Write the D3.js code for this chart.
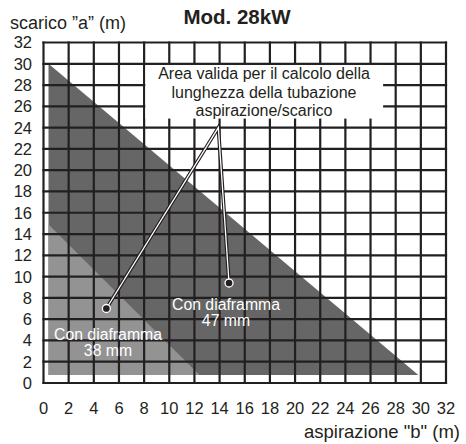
<!DOCTYPE html>
<html>
<head>
<meta charset="utf-8">
<script src="https://cdn.jsdelivr.net/npm/d3@7"></script>
<style>
  html, body { margin: 0; padding: 0; background: #fff; }
  svg { display: block; font-family: "Liberation Sans", Arial, sans-serif; }
</style>
</head>
<body>
<svg id="chart" width="466" height="444"></svg>
<script>
// Axis ticks (metres)
const xTicks = [0, 2, 4, 6, 8, 10, 12, 14, 16, 18, 20, 22, 24, 26, 28, 30, 32];
const yTicks = [0, 2, 4, 6, 8, 10, 12, 14, 16, 18, 20, 22, 24, 26, 28, 30, 32];

// Valid areas: [aspirazione b, scarico a]
const area47 = [[0.4, 30], [29.8, 0.75], [0.4, 0.75]];
const area38 = [[0.4, 14.9], [12.4, 0.75], [0.4, 0.75]];

// Callout: two marker points joined through a common apex
const calloutApex = [13.9, 24];
const marker38 = [5, 7];
const marker47 = [14.75, 9.4];

const titleText = "Mod. 28kW";
const yTitle = "scarico \u201da\u201d (m)";
const xTitle = "aspirazione \"b\" (m)";
const noteLines = ["Area valida per il calcolo della", "lunghezza della tubazione", "aspirazione/scarico"];
const label38 = ["Con diaframma", "38 mm"];
const label47 = ["Con diaframma", "47 mm"];

const ink = "#231f20";
const svg = d3.select("#chart");

const x = d3.scaleLinear().domain([0, 32]).range([43.5, 446]);
const y = d3.scaleLinear().domain([0, 32]).range([383, 42.5]);

const line = d3.line().x(d => x(d[0])).y(d => y(d[1]));

// shaded areas
svg.append("path").attr("d", line(area47) + "Z").attr("fill", "#666666");
svg.append("path").attr("d", line(area38) + "Z").attr("fill", "#939393");

// grid
const grid = svg.append("g").attr("stroke", ink).attr("stroke-width", 2.2);
grid.selectAll("line.v").data(xTicks).join("line")
  .attr("x1", d => x(d)).attr("x2", d => x(d))
  .attr("y1", y(32) - 1.1).attr("y2", y(0) + 1.1);
grid.selectAll("line.h").data(yTicks).join("line")
  .attr("x1", x(0) - 1.1).attr("x2", x(32) + 1.1)
  .attr("y1", d => y(d)).attr("y2", d => y(d));

// white panel behind the note
svg.append("rect")
  .attr("x", x(8) + 1.2).attr("y", y(30) + 1.2)
  .attr("width", x(27) - x(8) - 1.2).attr("height", y(24.85) - y(30) - 1.2)
  .attr("fill", "#fff");

const note = svg.append("text")
  .attr("text-anchor", "middle").attr("font-size", 16).attr("fill", ink);
noteLines.forEach((t, i) => {
  note.append("tspan").attr("x", 264).attr("y", 79 + i * 18.5).text(t);
});

// callout lines
const callout = [marker38, calloutApex, marker47];
svg.append("path").attr("d", line(callout)).attr("fill", "none")
  .attr("stroke", ink).attr("stroke-width", 3.6).attr("stroke-linejoin", "miter");
svg.append("path").attr("d", line(callout)).attr("fill", "none")
  .attr("stroke", "#fff").attr("stroke-width", 1.3).attr("stroke-linejoin", "miter");
svg.selectAll("circle.m").data([marker38, marker47]).join("circle")
  .attr("cx", d => x(d[0])).attr("cy", d => y(d[1])).attr("r", 4)
  .attr("fill", ink).attr("stroke", "#fff").attr("stroke-width", 1.3);

// area labels
function areaLabel(lines, cx, top) {
  const t = svg.append("text").attr("text-anchor", "middle")
    .attr("font-size", 15.8).attr("fill", "#fff");
  lines.forEach((s, i) => t.append("tspan").attr("x", cx).attr("y", top + i * 16).text(s));
}
areaLabel(label38, 108, 340);
areaLabel(label47, 226, 310);

// tick labels
svg.append("g").selectAll("text").data(yTicks).join("text")
  .attr("x", 32).attr("y", d => y(d)).attr("dy", "0.36em")
  .attr("text-anchor", "end").attr("font-size", 16.5).attr("fill", ink)
  .text(d => d);
svg.append("g").selectAll("text").data(xTicks).join("text")
  .attr("x", d => x(d)).attr("y", 408).attr("dy", "0.36em")
  .attr("text-anchor", "middle").attr("font-size", 16.5).attr("fill", ink)
  .text(d => d);

// titles
svg.append("text").attr("x", 237).attr("y", 24).attr("text-anchor", "middle")
  .attr("font-size", 20.5).attr("font-weight", "bold").attr("fill", ink).text(titleText);
svg.append("text").attr("x", 10).attr("y", 29).attr("font-size", 18).attr("fill", ink).text(yTitle);
svg.append("text").attr("x", 460).attr("y", 438).attr("text-anchor", "end")
  .attr("font-size", 18.5).attr("fill", ink).text(xTitle);
</script>
</body>
</html>
